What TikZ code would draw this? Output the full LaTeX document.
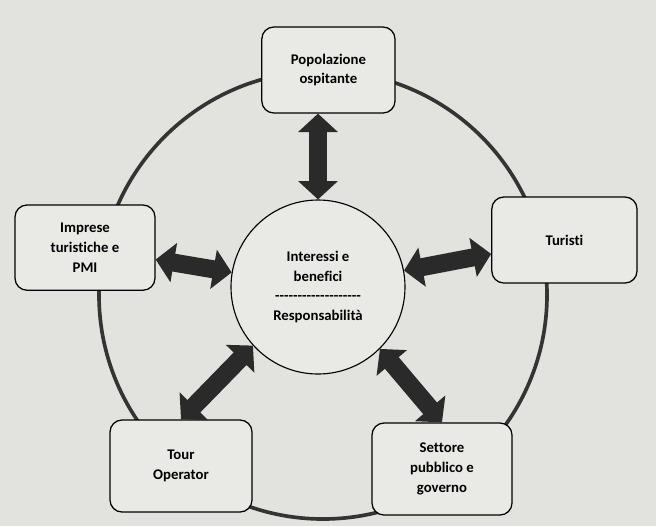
\documentclass[tikz,border=0pt]{standalone}
\usepackage{fontspec}
\setmainfont{Carlito}[Ligatures=NoCommon]
\usetikzlibrary{arrows.meta}

\begin{document}
\begin{tikzpicture}[
    party/.style={rectangle, rounded corners=0.3cm, draw=black, line width=0.9pt, fill=boxfill, align=center, inner sep=2pt, font=\fontsize{10.5}{14}\selectfont\bfseries},
    hub/.style={circle, draw=black, line width=0.8pt, fill=boxfill, minimum size=4.35cm, inner sep=0pt, align=center, font=\fontsize{10.5}{14}\selectfont\bfseries},
    fatarrow/.style={draw=arrowgray, line width=0.45cm, {Triangle[width=0.97cm, length=0.46cm]}-{Triangle[width=0.97cm, length=0.46cm]}},
    ring/.style={draw=ringgray, line width=2.6pt}
]

% Define colors
\definecolor{paper}{RGB}{226,227,223}
\definecolor{boxfill}{RGB}{233,234,230}
\definecolor{arrowgray}{RGB}{42,42,42}
\definecolor{ringgray}{RGB}{52,52,52}

% --- Page ---
\fill[paper] (0,0) rectangle (16.4,-13.15);
\useasboundingbox (0,0) rectangle (16.4,-13.15);

% --- Outer ring (behind the boxes) ---
\draw[ring] (8.075,-7.375) circle (5.6cm);

% --- Stakeholder boxes ---
\node[party, minimum width=3.33cm, minimum height=2.15cm] (popolazione) at (8.21,-1.75) {Popolazione\\ospitante};
\node[party, minimum width=3.5cm, minimum height=2.13cm] (imprese) at (2.125,-6.19) {Imprese\\turistiche e\\PMI};
\node[party, minimum width=3.63cm, minimum height=2.15cm] (turisti) at (14.11,-6.0) {Turisti};
\node[party, minimum width=3.55cm, minimum height=2.3cm] (tour) at (4.525,-11.65) {Tour\\Operator};
\node[party, minimum width=3.5cm, minimum height=2.3cm] (settore) at (11.05,-11.725) {Settore\\pubblico e\\governo};

% --- Centre ---
\node[hub] (centro) at (7.95,-7.175) {Interessi e\\benefici\\\foreach \d in {1,...,19}{\mbox{-}}\\Responsabilità};

% --- Double arrows ---
\draw[fatarrow] (centro.north) -- (centro.north |- popolazione.south);
\draw[fatarrow] (imprese) -- (centro);
\draw[fatarrow] (centro) -- (turisti);
\draw[fatarrow] (centro.222) -- (tour.north);
\draw[fatarrow] (centro.315) -- (settore.north);

\end{tikzpicture}
\end{document}
